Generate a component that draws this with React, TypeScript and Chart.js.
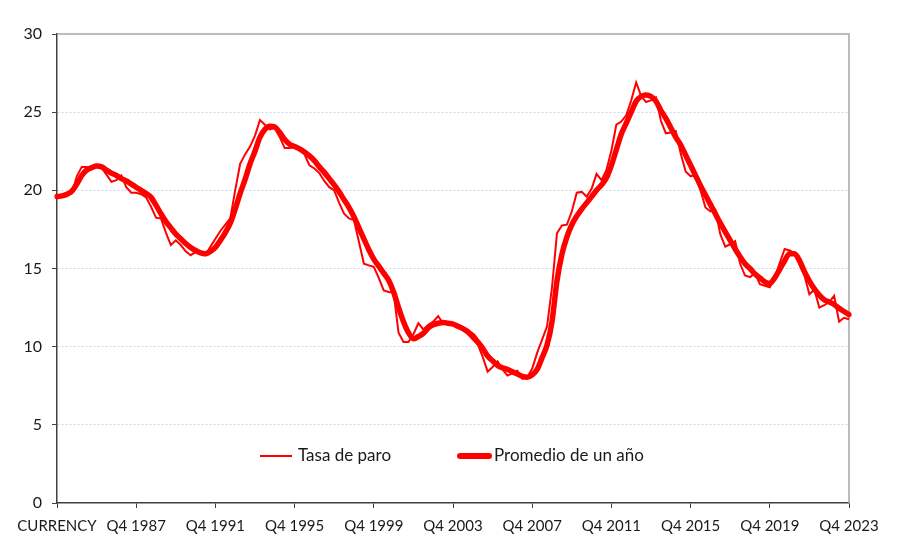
import React, { useEffect, useRef } from 'react';
import { Chart, registerables } from 'chart.js';

Chart.register(...registerables);

// X-axis tick labels (one every 16 quarters, starting Q4 1983)
const tickLabels = [
  'CURRENCY', 'Q4 1987', 'Q4 1991', 'Q4 1995', 'Q4 1999', 'Q4 2003',
  'Q4 2007', 'Q4 2011', 'Q4 2015', 'Q4 2019', 'Q4 2023',
];

// Quarterly categories Q4 1983 .. Q4 2023
const firstYear = 1983;
const quarterCount = 161;
const categories: string[] = [];
for (let i = 0; i < quarterCount; i++) {
  const q = ((3 + i) % 4) + 1;
  const y = firstYear + Math.floor((3 + i) / 4);
  categories.push(`Q${q} ${y}`);
}

// Tasa de paro (%), quarterly
const tasaParo = [
  19.6, 19.6, 19.7, 19.8, 20.9, 21.5, 21.5, 21.45,
  21.5, 21.45, 21.0, 20.55, 20.65, 20.95, 20.2, 19.85,
  19.85, 19.75, 19.55, 18.95, 18.25, 18.2, 17.3, 16.5,
  16.8, 16.5, 16.1, 15.85, 16.05, 15.95, 15.85, 16.4,
  16.9, 17.4, 17.8, 18.2, 20.0, 21.7, 22.3, 22.8,
  23.5, 24.5, 24.2, 23.9, 24.0, 23.4, 22.7, 22.7,
  22.75, 22.6, 22.3, 21.6, 21.4, 21.1, 20.6, 20.2,
  20.0, 19.2, 18.5, 18.2, 18.1, 16.7, 15.3, 15.2,
  15.1, 14.4, 13.6, 13.5, 13.45, 10.9, 10.3, 10.3,
  10.8, 11.5, 11.1, 11.4, 11.6, 11.95, 11.5, 11.45,
  11.4, 11.3, 11.15, 10.8, 10.45, 10.15, 9.35, 8.4,
  8.7, 9.05, 8.55, 8.15, 8.3, 8.45, 7.95, 8.05,
  8.6, 9.6, 10.45, 11.3, 13.8, 17.25, 17.75, 17.8,
  18.65, 19.85, 19.9, 19.6, 20.1, 21.05, 20.65, 21.3,
  22.55, 24.2, 24.4, 24.8, 25.75, 26.9, 26.05, 25.65,
  25.75, 25.95, 24.45, 23.65, 23.7, 23.8, 22.35, 21.2,
  20.9, 21.0, 20.0, 18.9, 18.65, 18.75, 17.2, 16.4,
  16.55, 16.75, 15.3, 14.55, 14.45, 14.7, 14.0, 13.9,
  13.8, 14.4, 15.35, 16.25, 16.15, 16.0, 15.25, 14.55,
  13.35, 13.65, 12.5, 12.65, 12.85, 13.25, 11.6, 11.85,
  11.75,
];

// Promedio de un año (%), quarterly
const promedioAnual = [
  19.6, 19.65, 19.75, 19.95, 20.4, 20.95, 21.3, 21.45,
  21.55, 21.5, 21.3, 21.1, 20.95, 20.75, 20.6, 20.4,
  20.2, 20.0, 19.8, 19.55, 19.05, 18.5, 18.0, 17.6,
  17.2, 16.9, 16.6, 16.35, 16.15, 16.0, 15.95, 16.1,
  16.35, 16.8, 17.3, 17.9, 18.8, 19.8, 20.7, 21.7,
  22.5, 23.4, 23.9, 24.1, 24.05, 23.7, 23.25, 22.95,
  22.8, 22.65, 22.45, 22.2, 21.9, 21.5, 21.15, 20.75,
  20.35, 19.9, 19.4, 18.9, 18.3, 17.6, 16.9, 16.2,
  15.6, 15.15, 14.7, 14.25, 13.5, 12.5, 11.6, 10.9,
  10.5, 10.65, 10.85, 11.2, 11.4, 11.5, 11.55, 11.5,
  11.45, 11.3, 11.15, 10.95, 10.7, 10.3, 9.9, 9.4,
  9.1, 8.8, 8.65, 8.55, 8.4, 8.25, 8.1, 8.05,
  8.2, 8.55, 9.3, 10.1, 11.6, 14.2, 15.9, 17.0,
  17.8, 18.35, 18.8, 19.2, 19.6, 20.0, 20.35, 20.8,
  21.6, 22.6, 23.6, 24.3, 25.0, 25.7, 26.0, 26.1,
  26.0, 25.7, 25.1, 24.6, 24.0, 23.4, 22.9, 22.25,
  21.6, 20.95, 20.3, 19.7, 19.1, 18.5, 17.9, 17.35,
  16.8, 16.25, 15.75, 15.3, 15.0, 14.65, 14.4, 14.15,
  14.05, 14.4, 14.95, 15.5, 15.95, 15.95, 15.5, 14.8,
  14.2, 13.7, 13.3, 13.0, 12.85, 12.7, 12.45, 12.25,
  12.05,
];

const seriesNames = ['Tasa de paro', 'Promedio de un año'];

const RED = '#ff0000';
const AXIS = '#404040';
const FRAME = '#a6a6a6';
const GRID = '#c5d9f1';
const TEXT = '#1a1a1a';
const FONT = 'Lato, "Open Sans", "DejaVu Sans", sans-serif';

const framePlugin = {
  id: 'frame',
  beforeDatasetsDraw(chart: any) {
    const { ctx, chartArea } = chart;
    ctx.save();
    ctx.strokeStyle = FRAME;
    ctx.lineWidth = 1.5;
    ctx.beginPath();
    ctx.moveTo(chartArea.left, chartArea.top);
    ctx.lineTo(chartArea.right, chartArea.top);
    ctx.lineTo(chartArea.right, chartArea.bottom);
    ctx.stroke();
    ctx.restore();
  },
};

const legendPlugin = {
  id: 'insideLegend',
  afterDraw(chart: any) {
    const { ctx } = chart;
    const y = 456;
    ctx.save();
    ctx.strokeStyle = RED;
    ctx.lineCap = 'butt';
    ctx.lineWidth = 2;
    ctx.beginPath();
    ctx.moveTo(260, y);
    ctx.lineTo(292, y);
    ctx.stroke();
    ctx.lineCap = 'round';
    ctx.lineWidth = 6;
    ctx.beginPath();
    ctx.moveTo(460, y);
    ctx.lineTo(489, y);
    ctx.stroke();
    ctx.fillStyle = TEXT;
    ctx.font = `17px ${FONT}`;
    ctx.textBaseline = 'middle';
    ctx.textAlign = 'left';
    ctx.fillText(seriesNames[0], 298, y);
    ctx.fillText(seriesNames[1], 494, y);
    ctx.restore();
  },
};

export default function App() {
  const ref = useRef<HTMLCanvasElement | null>(null);

  useEffect(() => {
    if (!ref.current) return;
    const chart = new Chart(ref.current, {
      type: 'line',
      data: {
        labels: categories,
        datasets: [
          {
            label: seriesNames[1],
            data: promedioAnual,
            borderColor: RED,
            backgroundColor: RED,
            borderWidth: 5.5,
            pointRadius: 0,
            tension: 0.4,
            cubicInterpolationMode: 'monotone',
            borderCapStyle: 'round',
            borderJoinStyle: 'round',
            order: 0,
          },
          {
            label: seriesNames[0],
            data: tasaParo,
            borderColor: RED,
            backgroundColor: RED,
            borderWidth: 2,
            pointRadius: 0,
            tension: 0,
            order: 1,
          },
        ],
      },
      options: {
        responsive: false,
        animation: false,
        events: [],
        layout: { padding: { top: 34, right: 52, left: 0, bottom: 0 } },
        plugins: {
          legend: { display: false },
          tooltip: { enabled: false },
          title: { display: false },
        },
        scales: {
          x: {
            type: 'category',
            grid: {
              display: true,
              drawOnChartArea: false,
              drawTicks: true,
              tickLength: 5,
              tickColor: AXIS,
              tickWidth: 1,
            },
            border: { display: true, color: AXIS, width: 1.5 },
            ticks: {
              autoSkip: false,
              maxRotation: 0,
              minRotation: 0,
              padding: 9,
              color: TEXT,
              font: { family: FONT, size: 15 },
              callback: (value: any) => tickLabels[Number(value) / 16] ?? '',
            },
            afterBuildTicks: (scale: any) => {
              scale.ticks = scale.ticks.filter((t: any) => t.value % 16 === 0);
            },
            afterFit: (scale: any) => {
              scale.height = 51;
            },
          },
          y: {
            min: 0,
            max: 30,
            ticks: {
              stepSize: 5,
              padding: 10,
              color: TEXT,
              font: { family: FONT, size: 16 },
            },
            grid: {
              color: (c: any) => (c.tick && c.tick.value > 0 && c.tick.value < 30 ? GRID : 'rgba(0,0,0,0)'),
              lineWidth: 1,
              drawTicks: true,
              tickLength: 5,
              tickColor: AXIS,
              tickWidth: 1,
            },
            border: { display: true, color: AXIS, width: 1.5, dash: [2, 2] },
            afterFit: (scale: any) => {
              scale.width = 57;
            },
          },
        },
      },
      plugins: [framePlugin, legendPlugin],
    } as any);
    return () => chart.destroy();
  }, []);

  return (
    <div style={{ position: 'fixed', left: 0, top: 0, width: 901, height: 554, background: '#ffffff' }}>
      <canvas ref={ref} width={901} height={554} />
    </div>
  );
}
